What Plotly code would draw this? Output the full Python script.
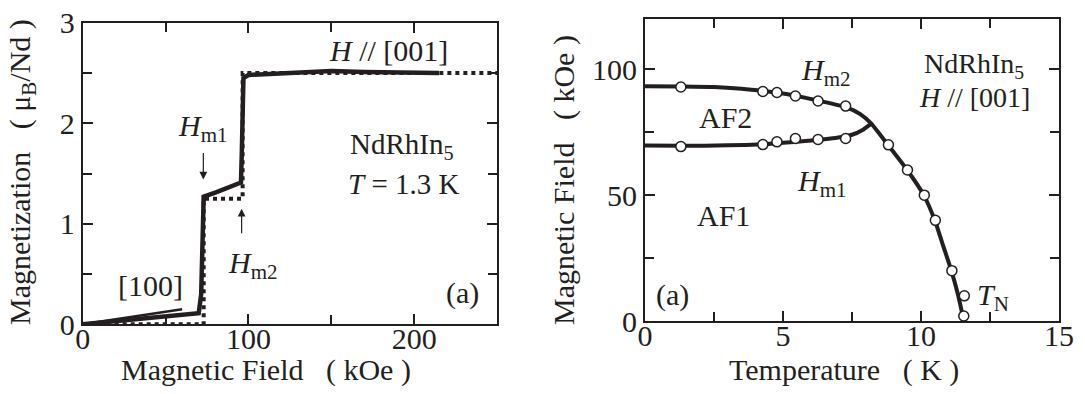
import plotly.graph_objects as go

# ---------------- Left panel data: magnetization curves ----------------
m001_field = [0, 20, 40, 60, 70, 71.5, 72, 72.5, 73, 80, 90, 95.5, 96, 96.5, 97, 100, 110, 130, 150, 170, 190, 215]
m001_mag = [0, 0.03, 0.06, 0.09, 0.11, 0.3, 0.8, 1.2, 1.27, 1.31, 1.37, 1.41, 1.7, 2.2, 2.45, 2.48, 2.49, 2.5, 2.52, 2.51, 2.51, 2.5]

step_field = [0, 73, 73, 96.5, 96.5, 250]
step_mag = [0, 0, 1.25, 1.25, 2.5, 2.5]

m100_field = [0, 20, 40, 60]
m100_mag = [0, 0.05, 0.10, 0.15]

# ---------------- Right panel data: phase diagram ----------------
hm2_curve_T = [0, 1.3, 2.5, 3.5, 4.3, 5.0, 5.5, 6.3, 7.3, 7.8, 8.2, 8.8, 9.5, 10.1, 10.5, 10.8, 11.1, 11.35, 11.55]
hm2_curve_H = [93.3, 93.2, 93.0, 92.3, 91.4, 90.4, 89.4, 87.5, 84.9, 82.2, 78.4, 70, 60, 50, 40, 30, 20, 10, 0]

hm1_curve_T = [0, 1.3, 3.0, 4.3, 5.0, 5.8, 6.5, 7.0, 7.5, 7.9, 8.2]
hm1_curve_H = [69.7, 69.6, 69.8, 70.2, 70.8, 71.5, 72.2, 72.9, 74.0, 76.0, 78.4]

hm2_T = [1.3, 4.27, 4.78, 5.45, 6.27, 7.27]
hm2_H = [93.0, 91.2, 90.8, 89.4, 87.4, 85.4]
hm1_T = [1.3, 4.27, 4.78, 5.45, 6.27, 7.27]
hm1_H = [69.3, 70.1, 71.2, 72.5, 72.1, 72.5]
tn_T = [8.82, 9.51, 10.12, 10.52, 11.12, 11.57, 11.55]
tn_H = [70, 60, 50, 40, 20, 10, 2]

W, H = 1085, 394
FONT = "Liberation Serif"
INK = "#231f20"
NB = "\u00a0"


def px(x):
    return x / W


def py(y):
    return 1 - y / H


fig = go.Figure()

# left panel traces
fig.add_trace(go.Scatter(x=step_field, y=step_mag, mode="lines",
                         line=dict(color=INK, width=4, dash="dot"),
                         xaxis="x", yaxis="y", showlegend=False))
fig.add_trace(go.Scatter(x=m100_field, y=m100_mag, mode="lines",
                         line=dict(color=INK, width=2.5),
                         xaxis="x", yaxis="y", showlegend=False))
fig.add_trace(go.Scatter(x=m001_field, y=m001_mag, mode="lines",
                         line=dict(color=INK, width=4.5),
                         xaxis="x", yaxis="y", showlegend=False))

# right panel traces
fig.add_trace(go.Scatter(x=hm2_curve_T, y=hm2_curve_H, mode="lines",
                         line=dict(color=INK, width=4, shape="spline", smoothing=0.5),
                         xaxis="x2", yaxis="y2", showlegend=False))
fig.add_trace(go.Scatter(x=hm1_curve_T, y=hm1_curve_H, mode="lines",
                         line=dict(color=INK, width=4, shape="spline", smoothing=0.4),
                         xaxis="x2", yaxis="y2", showlegend=False))
for tx, hy in [(hm2_T, hm2_H), (hm1_T, hm1_H), (tn_T, tn_H)]:
    fig.add_trace(go.Scatter(x=tx, y=hy, mode="markers",
                             marker=dict(symbol="circle", size=10, color="white",
                                         line=dict(color=INK, width=1.5)),
                             xaxis="x2", yaxis="y2", showlegend=False))

axis_common = dict(
    showgrid=False, zeroline=False, showline=True, linecolor=INK, linewidth=2,
    mirror="ticks", ticks="inside", ticklen=10, tickwidth=1.5, tickcolor=INK,
    tickfont=dict(family=FONT, size=30, color=INK), automargin=False,
)
MINOR = dict(ticklen=9, ticks="inside", tickcolor=INK, tickwidth=1.5)

fig.update_layout(
    template="none",
    width=W, height=H, autosize=False,
    margin=dict(l=0, r=0, t=0, b=0, pad=0),
    paper_bgcolor="white", plot_bgcolor="white",
    xaxis=dict(domain=[px(82.7), px(497)], range=[0, 250], dtick=100, tick0=0,
               minor=dict(dtick=50, **MINOR), ticklabelstandoff=-13,
               anchor="y", **axis_common),
    yaxis=dict(domain=[py(324.3), py(22.7)], range=[0, 3], dtick=1, tick0=0,
               minor=dict(dtick=0.5, **MINOR),
               anchor="x", **axis_common),
    xaxis2=dict(domain=[px(645), px(1059)], range=[0, 15], dtick=5, tick0=0,
                minor=dict(dtick=2.5, **MINOR), ticklabelstandoff=-13,
                anchor="y2", **axis_common),
    yaxis2=dict(domain=[py(321), py(19)], range=[0, 120], dtick=50, tick0=0,
                minor=dict(dtick=25, **MINOR),
                anchor="x2", **axis_common),
)


def plabel(text, xp, yp, size=30, **kw):
    fig.add_annotation(text=text, x=px(xp), y=py(yp), xref="paper", yref="paper",
                       showarrow=False, font=dict(family=FONT, size=size, color=INK),
                       xanchor="center", yanchor="middle", **kw)


# axis titles
plabel("Magnetic Field" + NB * 3 + "(" + NB + "kOe" + NB + ")", 266, 370)
plabel("Magnetization" + NB * 3 + "(" + NB + "μ<sub>B</sub>/Nd" + NB + ")", 22, 172, textangle=-90)
plabel("Temperature" + NB * 3 + "(" + NB + "K" + NB + ")", 844, 370)
plabel("Magnetic Field" + NB * 3 + "(" + NB + "kOe" + NB + ")", 564, 180, textangle=-90)

# left panel labels
plabel("<i>H</i><sub>m1</sub>", 203, 128)
plabel("<i>H</i><sub>m2</sub>", 253, 265)
plabel("[100]", 150, 285)
plabel("NdRhIn<sub>5</sub>", 402, 146, size=29)
plabel("<i>T</i>" + NB + "=" + NB + "1.3" + NB + "K", 403, 184, size=29)
plabel("<i>H</i>" + NB + "//" + NB + "[001]", 388, 50)
plabel("(a)", 462, 293)

# arrows (left panel)
fig.add_annotation(x=72.8, y=1.44, ax=72.8, ay=1.72, xref="x", yref="y", axref="x", ayref="y",
                   showarrow=True, arrowhead=2, arrowsize=1.3, arrowwidth=1.2, arrowcolor=INK, text="")
fig.add_annotation(x=95.9, y=1.15, ax=95.9, ay=0.89, xref="x", yref="y", axref="x", ayref="y",
                   showarrow=True, arrowhead=2, arrowsize=1.3, arrowwidth=1.2, arrowcolor=INK, text="")

# right panel labels
plabel("<i>H</i><sub>m2</sub>", 826, 72)
plabel("AF2", 725, 117)
plabel("<i>H</i><sub>m1</sub>", 822, 183)
plabel("AF1", 723, 215)
plabel("NdRhIn<sub>5</sub>", 974, 66, size=28)
plabel("<i>H</i>" + NB + "//" + NB + "[001]", 974, 98, size=28)
plabel("(a)", 672, 295)
plabel("<i>T</i><sub>N</sub>", 993, 297)

fig.write_html("out.html")
